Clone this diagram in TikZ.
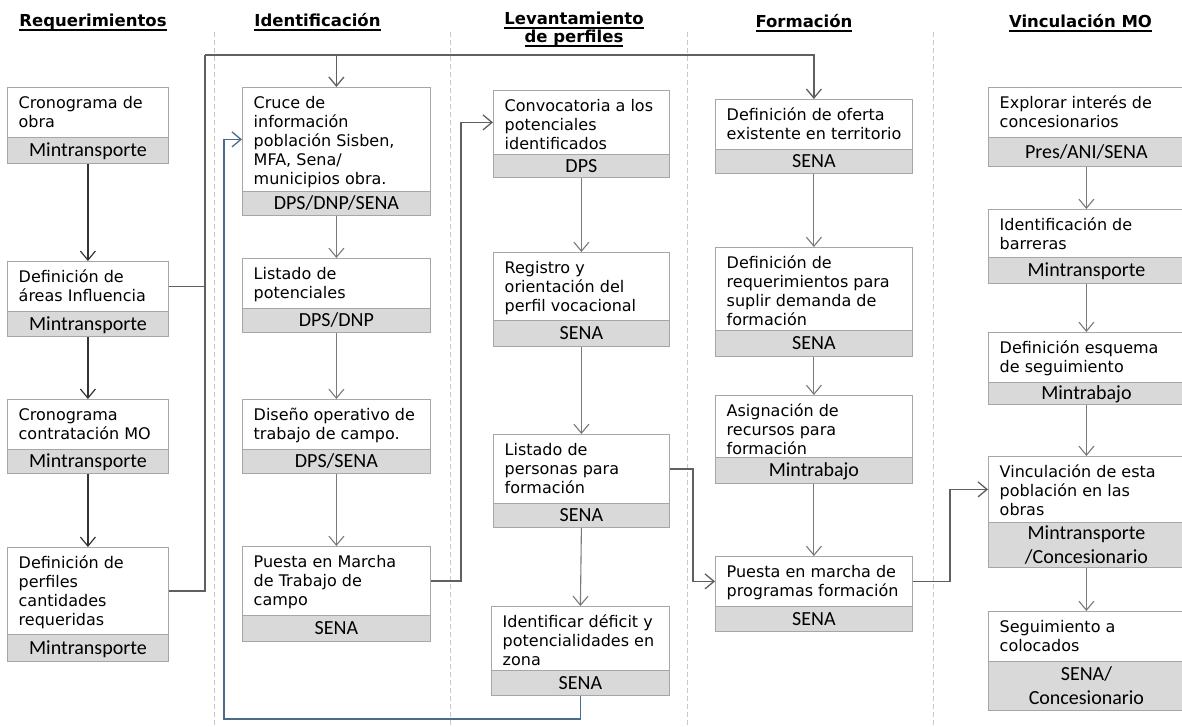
\documentclass[tikz,border=0pt]{standalone}
\usepackage{fontspec}
\setmainfont{DejaVu Sans}
\newfontfamily\lab{Carlito}
\usetikzlibrary{arrows.meta}
\definecolor{bordc}{HTML}{A6A6A6}
\definecolor{graybg}{HTML}{D9D9D9}
\definecolor{arrc}{HTML}{7A7A7A}
\definecolor{darkc}{HTML}{333333}
\definecolor{routec}{HTML}{606060}
\definecolor{bluec}{HTML}{4A6B8C}
\definecolor{sepc}{HTML}{C8C8C8}
\newcommand\ttlul[1]{\setbox0\hbox{#1}\rlap{\rule[-4.8pt]{\wd0}{1.6pt}}\box0}
\tikzset{
  wpart/.style={draw=bordc, fill=white, line width=0.8pt, anchor=north west, inner sep=0pt},
  glab/.style={draw=bordc, fill=graybg, line width=0.8pt, anchor=north west, inner sep=0pt,
    font=\lab\fontsize{20}{24}\selectfont, text height=13pt, text depth=0pt},
  glabii/.style={draw=bordc, fill=graybg, line width=0.8pt, anchor=north west, inner sep=0pt,
    font=\lab\fontsize{20}{24}\selectfont, align=center},
  btext/.style={anchor=north west, inner sep=0pt, align=left, font=\fontsize{16}{19}\selectfont},
  ttl/.style={anchor=base, inner sep=0pt, font=\bfseries\fontsize{16.5}{19}\selectfont},
  arr/.style={draw=arrc, line width=1.1pt, -{Straight Barb[length=9pt,width=15pt]}},
  darr/.style={draw=darkc, line width=1.2pt, -{Straight Barb[length=9pt,width=15pt]}},
  route/.style={draw=routec, line width=1.3pt},
  routearr/.style={draw=routec, line width=1.3pt, -{Straight Barb[length=9pt,width=15pt]}},
  bluearr/.style={draw=bluec, line width=1.3pt, -{Straight Barb[length=9pt,width=15pt]}},
  sepline/.style={draw=sepc, line width=0.8pt, dash pattern=on 5pt off 3pt},
}
% [gray style] name, x1, ytop, x2, ymid, ybot, text, label
\newcommand\mkbox[9][glab]{%
  \node[wpart, minimum width={#5-#3}, minimum height={#6-#4}] (#2) at (#3,#4) {};
  \node[#1, minimum width={#5-#3}, minimum height={#7-#6}] (#2g) at (#3,#6) {#9};
  \node[btext] (#2t) at ([xshift=11.5pt, yshift=-6.5pt]#2.north west) {\rule{0pt}{15pt}#8};
}
\begin{document}
\begin{tikzpicture}[x=1pt, y=-1pt]
\useasboundingbox (0,0) rectangle (1182,726);
\fill[white] (0,0) rectangle (1182,726);

% separators
\draw[sepline] (214,32) -- (214,726);
\draw[sepline] (450,32) -- (450,726);
\draw[sepline] (687,32) -- (687,726);
\draw[sepline] (933,32) -- (933,726);

% titles
\node[ttl] (t1) at (93,26) {\ttlul{Requerimientos}};
\node[ttl] (t2) at (317.5,26) {\ttlul{Identificación}};
\node[ttl] (t3a) at (574,24) {\ttlul{Levantamiento}};
\node[ttl] (t3b) at (574,42) {\ttlul{de perfiles}};
\node[ttl] (t4) at (804,27) {\ttlul{Formación}};
\node[ttl] (t5) at (1080.5,27) {\ttlul{Vinculación MO}};

% column 1
\mkbox{r1}{7}{87}{168}{137}{163}{Cronograma de\\obra}{Mintransporte}
\mkbox{r2}{7}{261}{168}{311}{336}{Definición de\\áreas Influencia}{Mintransporte}
\mkbox{r3}{7}{399}{168}{449}{473}{Cronograma\\contratación MO}{Mintransporte}
\mkbox{r4}{7}{547}{168}{634}{661}{Definición de\\perfiles\\cantidades\\requeridas}{Mintransporte}

% column 2
\mkbox{i1}{242}{87}{430}{191}{215}{Cruce de\\información\\población Sisben,\\MFA, Sena/\\municipios obra.}{DPS/DNP/SENA}
\mkbox{i2}{242}{258}{430}{308}{332}{Listado de\\potenciales}{DPS/DNP}
\mkbox{i3}{242}{399}{430}{449}{473}{Diseño operativo de\\trabajo de campo.}{DPS/SENA}
\mkbox{i4}{242}{546}{430}{615}{641}{Puesta en Marcha\\de Trabajo de\\campo}{SENA}

% column 3
\mkbox{l1}{493}{90}{669}{154}{177}{Convocatoria a los\\potenciales\\identificados}{DPS}
\mkbox{l2}{493}{252}{669}{320}{346}{Registro y\\orientación del\\perfil vocacional}{SENA}
\mkbox{l3}{493}{434}{669}{503}{527}{Listado de\\personas para\\formación}{SENA}
\mkbox{l4}{491}{606}{669}{670}{695}{Identificar déficit y\\potencialidades en\\zona}{SENA}

% column 4
\mkbox{f1}{715}{99}{912}{149}{173}{Definición de oferta\\existente en territorio}{SENA}
\mkbox{f2}{715}{247}{912}{330}{356}{Definición de\\requerimientos para\\suplir demanda de\\formación}{SENA}
\mkbox{f3}{715}{395}{912}{457}{483}{Asignación de\\recursos para\\formación}{Mintrabajo}
\mkbox{f4}{715}{556}{912}{606}{631}{Puesta en marcha de\\programas formación}{SENA}

% column 5
\mkbox{v1}{988}{87}{1184}{137}{166}{Explorar interés de\\concesionarios}{Pres/ANI/SENA}
\mkbox{v2}{988}{209}{1184}{257}{283}{Identificación de\\barreras}{Mintransporte}
\mkbox{v3}{988}{332}{1184}{382}{404}{Definición esquema\\de seguimiento}{Mintrabajo}
\mkbox[glabii]{v4}{988}{456}{1184}{522}{567}{Vinculación de esta\\población en las\\obras}{Mintransporte\\/Concesionario}
\mkbox[glabii]{v5}{988}{611}{1184}{661}{710}{Seguimiento a\\colocados}{SENA/\\Concesionario}

% vertical arrows
\draw[darr] (r1g.south) -- (r2.north);
\draw[darr] (r2g.south) -- (r3.north);
\draw[darr] (r3g.south) -- (r4.north);
\draw[arr] (i1g.south) -- (i2.north);
\draw[arr] (i2g.south) -- (i3.north);
\draw[arr] (i3g.south) -- (i4.north);
\draw[arr] (l1g.south) -- (l2.north);
\draw[arr] (l2g.south) -- (l3.north);
\draw[arr] (l3g.south) -- (l4.north);
\draw[arr] (f1g.south) -- (f2.north);
\draw[arr] (f2g.south) -- (f3.north);
\draw[arr] (f3g.south) -- (f4.north);
\draw[arr] (v1g.south) -- (v2.north);
\draw[arr] (v2g.south) -- (v3.north);
\draw[arr] (v3g.south) -- (v4.north);
\draw[arr] (v4g.south) -- (v5.north);

% routes
\coordinate (bus) at (205,55);
\coordinate (j1) at (461,0);
\coordinate (j2) at (693,0);
\coordinate (j3) at (950,0);
\coordinate (j4) at (224,719);
\draw[route] (r2.east) -| (bus);
\draw[route] (r4.east) -| (bus);
\draw[routearr] (bus) -| (f1.north);
\draw[routearr] (bus -| i1.north) -- (i1.north);
\draw[routearr] (i4.east) -| (j1 |- l1.west) -- (l1.west);
\draw[routearr] (l3.east) -| (j2 |- f4.west) -- (f4.west);
\draw[routearr] (f4.east) -| (j3 |- v4.west) -- (v4.west);
\draw[bluearr] (l4g.south) |- (j4) |- (i1.west);
\end{tikzpicture}
\end{document}
